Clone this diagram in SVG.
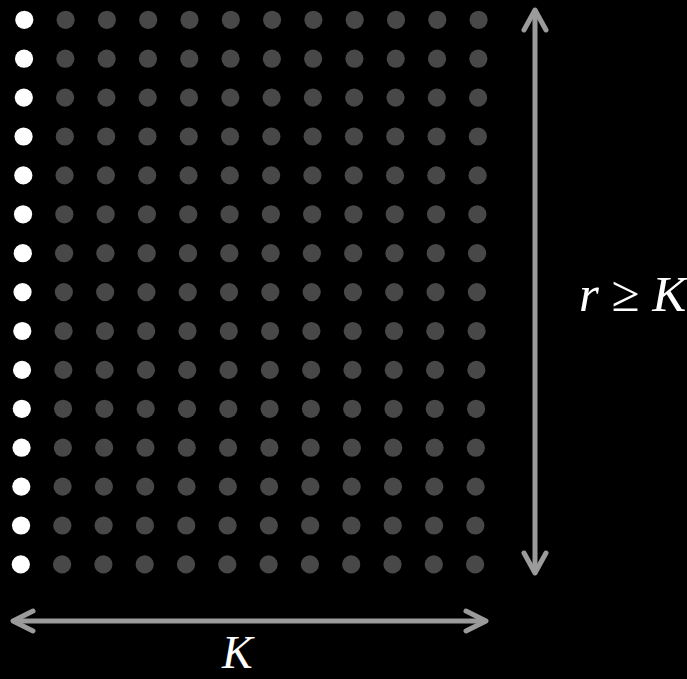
<svg xmlns="http://www.w3.org/2000/svg" xmlns:xlink="http://www.w3.org/1999/xlink" width="687" height="679" viewBox="0 0 687 679">
  <style>
    .g { fill: #484848; }
    .w { fill: #ffffff; }
    .arr { stroke: #9b9b9b; stroke-width: 5; fill: none; stroke-linecap: round; stroke-linejoin: round; }
    .lbl { font-family: "Liberation Serif", "Times New Roman", serif; font-size: 51px; fill: #ffffff; }
    .it { font-style: italic; }
  </style>
  <defs>
    <g id="row">
      <circle class="w" cx="0" cy="0" r="9.1"/>
      <circle class="g" cx="41.3" cy="0" r="9.1"/>
      <circle class="g" cx="82.6" cy="0" r="9.1"/>
      <circle class="g" cx="123.9" cy="0" r="9.1"/>
      <circle class="g" cx="165.2" cy="0" r="9.1"/>
      <circle class="g" cx="206.5" cy="0" r="9.1"/>
      <circle class="g" cx="247.8" cy="0" r="9.1"/>
      <circle class="g" cx="289.1" cy="0" r="9.1"/>
      <circle class="g" cx="330.4" cy="0" r="9.1"/>
      <circle class="g" cx="371.7" cy="0" r="9.1"/>
      <circle class="g" cx="413" cy="0" r="9.1"/>
      <circle class="g" cx="454.3" cy="0" r="9.1"/>
    </g>
  </defs>
  <rect x="0" y="0" width="687" height="679" fill="#000000"/>
  <g id="grid">
    <use xlink:href="#row" href="#row" transform="translate(24.3,19.8)"/>
    <use xlink:href="#row" href="#row" transform="translate(24.05,58.7)"/>
    <use xlink:href="#row" href="#row" transform="translate(23.8,97.6)"/>
    <use xlink:href="#row" href="#row" transform="translate(23.55,136.5)"/>
    <use xlink:href="#row" href="#row" transform="translate(23.3,175.4)"/>
    <use xlink:href="#row" href="#row" transform="translate(23.05,214.3)"/>
    <use xlink:href="#row" href="#row" transform="translate(22.8,253.2)"/>
    <use xlink:href="#row" href="#row" transform="translate(22.55,292.1)"/>
    <use xlink:href="#row" href="#row" transform="translate(22.3,331)"/>
    <use xlink:href="#row" href="#row" transform="translate(22.05,369.9)"/>
    <use xlink:href="#row" href="#row" transform="translate(21.8,408.8)"/>
    <use xlink:href="#row" href="#row" transform="translate(21.55,447.7)"/>
    <use xlink:href="#row" href="#row" transform="translate(21.3,486.6)"/>
    <use xlink:href="#row" href="#row" transform="translate(21.05,525.5)"/>
    <use xlink:href="#row" href="#row" transform="translate(20.8,564.4)"/>
  </g>
  <g id="connectors">
    <path class="arr" d="M535,11 L535,572"/>
    <path class="arr" d="M524,30 L535,10 L546,30"/>
    <path class="arr" d="M524,553 L535,573 L546,553"/>
    <path class="arr" d="M14,621 L485,621"/>
    <path class="arr" d="M33,611 L13,621 L33,631"/>
    <path class="arr" d="M466,611 L486,621 L466,631"/>
  </g>
  <g id="labels">
    <text class="lbl" x="579" y="311"><tspan class="it">r</tspan> ≥ <tspan class="it">K</tspan></text>
    <text class="lbl it" x="222" y="668" style="font-size:46px">K</text>
  </g>
</svg>
